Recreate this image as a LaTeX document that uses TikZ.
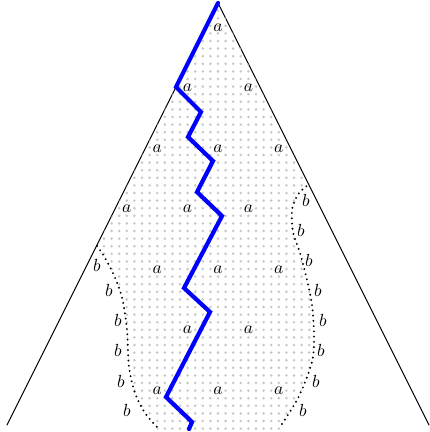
\documentclass[tikz,border=0pt]{standalone}
\usepackage{amsmath,amssymb}
\usepackage{xcolor}
\usepackage{tikz}
\usetikzlibrary{calc}
\tikzset{
  side/.style={line width=0.55pt},
  griddot/.style={fill=black!22},
  bdry/.style={line width=1.2pt, dash pattern=on 0pt off 3pt, line cap=round},
  walk/.style={blue, line width=2.4pt, line join=miter, line cap=round},
  lab/.style={inner sep=0pt},
  every picture/.style={line cap=round, line join=round}
}

\begin{document}
\begin{tikzpicture}[x=0.57pt, y=-0.57pt]
  \useasboundingbox (0,0) rectangle (429,432);

  % triangle
  \coordinate (top) at (218,3);
  \coordinate (bl) at (7,425);
  \coordinate (br) at (429,425);
  \draw[side] (bl) -- (top) -- (br);

  % dotted region
  \begin{scope}
    \clip (top) -- (97,246)
      -- plot[smooth] coordinates {(97,246) (102,253) (110,267) (118,285) (123,302) (127,330) (129,367) (135,393) (145,413) (157,427)}
      -- (157,432) -- (282,432) -- (282,424)
      -- plot[smooth] coordinates {(282,424) (297,400) (307,377) (313,357) (314,333) (312,305) (307,280) (300,253) (293,232) (292,210) (297,196) (302,190) (308,185)}
      -- cycle;
    \foreach \i in {-28,...,28}
      \foreach \j in {0,...,56}
        \fill[griddot] ({218+7.6*\i},{3+7.6*\j}) circle (0.8pt);
  \end{scope}

  % boundary of b
  \draw[bdry] plot[smooth] coordinates {(97,246) (102,253) (110,267) (118,285) (123,302) (127,330) (129,367) (135,393) (145,413) (157,427)};
  \draw[bdry] plot[smooth] coordinates {(282,424) (297,400) (307,377) (313,357) (314,333) (312,305) (307,280) (300,253) (293,232) (292,210) (297,196) (302,190) (308,185)};

  % labels a
  \foreach \x/\y [count=\n] in {0/0, -1/1, 1/1, -2/2, 0/2, 2/2, -3/3, -1/3, 1/3,
      -2/4, 0/4, 2/4, -1/5, 1/5, -2/6, 0/6, 2/6}
    \node[lab] (a\n) at ({218+30.4*\x},{27.5+60.5*\y}) {$a$};

  % labels b
  \foreach \x/\y [count=\n] in {97/265, 109/290, 118/320, 118/350, 121/381, 127/410}
    \node[lab] (bl\n) at (\x,\y) {$b$};
  \foreach \x/\y [count=\n] in {306/200, 301/230, 309/260, 318/290, 323/320, 321/350, 316/381, 303/410}
    \node[lab] (br\n) at (\x,\y) {$b$};

  % path
  \foreach \x/\y [count=\n from 0] in {218/3, 176/87, 201/112, 188/137, 213/161, 197/192,
      222/216, 184/288, 210/312, 166/397, 192/422, 189/429}
    \coordinate (p\n) at (\x,\y);
  \draw[walk] (p0) \foreach \k in {1,...,11} {-- (p\k)};
\end{tikzpicture}
\end{document}
